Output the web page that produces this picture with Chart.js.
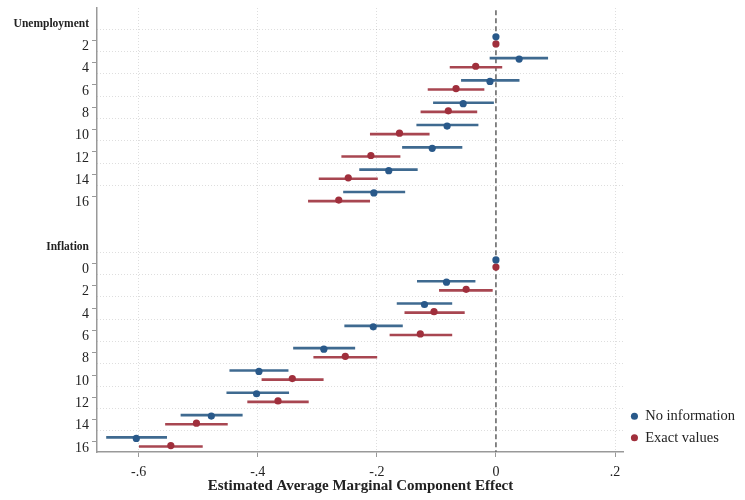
<!DOCTYPE html>
<html>
<head>
<meta charset="utf-8">
<script src="https://cdn.jsdelivr.net/npm/chart.js@4/dist/chart.umd.min.js"></script>
<style>
  html, body { margin: 0; padding: 0; background: #fff; }
</style>
</head>
<body>
<canvas id="amce" width="745" height="500"></canvas>
<script>
const FONT = "'Liberation Serif', 'Times New Roman', serif";
Chart.defaults.font.family = FONT;
Chart.defaults.color = '#222';

// attribute levels
const unemploymentLevels = ['2', '4', '6', '8', '10', '12', '14', '16'];
const inflationLevels = ['0', '2', '4', '6', '8', '10', '12', '14', '16'];

// "No information" estimates + 95% CI
const noInfoUnemployment = [0, 0.039, -0.010, -0.055, -0.082, -0.107, -0.180, -0.205];
const noInfoUnemploymentLow = [0, -0.010, -0.058, -0.105, -0.133, -0.157, -0.229, -0.256];
const noInfoUnemploymentHigh = [0, 0.087, 0.039, -0.004, -0.030, -0.057, -0.132, -0.153];
const noInfoInflation = [0, -0.083, -0.120, -0.206, -0.289, -0.398, -0.402, -0.478, -0.604];
const noInfoInflationLow = [0, -0.132, -0.166, -0.254, -0.340, -0.447, -0.452, -0.529, -0.654];
const noInfoInflationHigh = [0, -0.035, -0.074, -0.157, -0.237, -0.349, -0.348, -0.426, -0.553];

// "Exact values" estimates + 95% CI
const exactUnemployment = [0, -0.034, -0.067, -0.080, -0.162, -0.210, -0.248, -0.264];
const exactUnemploymentLow = [0, -0.077, -0.114, -0.126, -0.211, -0.259, -0.297, -0.315];
const exactUnemploymentHigh = [0, 0.010, -0.020, -0.032, -0.112, -0.161, -0.199, -0.212];
const exactInflation = [0, -0.050, -0.104, -0.127, -0.253, -0.342, -0.366, -0.503, -0.546];
const exactInflationLow = [0, -0.095, -0.153, -0.178, -0.306, -0.393, -0.417, -0.555, -0.599];
const exactInflationHigh = [0, -0.006, -0.053, -0.074, -0.200, -0.290, -0.315, -0.451, -0.493];

const xTicks = [-0.6, -0.4, -0.2, 0, 0.2];

const BLUE = '#29598a';
const BLUE_LINE = '#3f6a90';
const RED = '#a02f3c';
const RED_LINE = '#a84651';

// one row per label, a blank row between the two attributes
const rowLabels = ['Unemployment', ...unemploymentLevels, '', 'Inflation', ...inflationLevels];
const headerRows = [0, unemploymentLevels.length + 2];
const unemploymentRows = unemploymentLevels.map((_, i) => i + 1);
const inflationRows = inflationLevels.map((_, i) => headerRows[1] + 1 + i);
const Y_MIN = -0.45;
const Y_MAX = rowLabels.length - 1 + 0.45;
const SHIFT = 0.16;

const points = (values, rows, shift) =>
  values.map((v, i) => ({ x: v, y: rows[i] + shift }));
const intervals = (low, high, rows, shift) =>
  low.map((l, i) => ({ x: [l, high[i]], y: rows[i] + shift }));

const gridBetween = [];
rowLabels.forEach((label, i) => {
  if (i < rowLabels.length - 1 && label !== '' && rowLabels[i + 1] !== '') {
    gridBetween.push(i + 0.5);
  }
});

const legendShift = {
  id: 'legendShift',
  afterLayout(chart) {
    const lg = chart.legend;
    const delta = lg.bottom - 452;
    lg.top -= delta;
    lg.bottom -= delta;
  },
};

new Chart(document.getElementById('amce'), {
  type: 'scatter',
  data: {
    datasets: [
      {
        label: 'No information',
        data: [
          ...points(noInfoUnemployment, unemploymentRows, -SHIFT),
          ...points(noInfoInflation, inflationRows, -SHIFT),
        ],
        backgroundColor: BLUE,
        pointBackgroundColor: BLUE,
        pointRadius: 3.6,
        pointBorderWidth: 0,
        borderWidth: 0,
        order: 0,
      },
      {
        label: 'Exact values',
        data: [
          ...points(exactUnemployment, unemploymentRows, SHIFT),
          ...points(exactInflation, inflationRows, SHIFT),
        ],
        backgroundColor: RED,
        pointBackgroundColor: RED,
        pointRadius: 3.6,
        pointBorderWidth: 0,
        borderWidth: 0,
        order: 0,
      },
      {
        type: 'bar',
        indexAxis: 'y',
        data: [
          ...intervals(noInfoUnemploymentLow, noInfoUnemploymentHigh, unemploymentRows, -SHIFT),
          ...intervals(noInfoInflationLow, noInfoInflationHigh, inflationRows, -SHIFT),
        ],
        backgroundColor: BLUE_LINE,
        barThickness: 2,
        borderWidth: 0,
        order: 2,
      },
      {
        type: 'bar',
        indexAxis: 'y',
        data: [
          ...intervals(exactUnemploymentLow, exactUnemploymentHigh, unemploymentRows, SHIFT),
          ...intervals(exactInflationLow, exactInflationHigh, inflationRows, SHIFT),
        ],
        backgroundColor: RED_LINE,
        barThickness: 2,
        borderWidth: 0,
        order: 2,
      },
      {
        type: 'line',
        data: [{ x: 0, y: Y_MIN + 0.1 }, { x: 0, y: Y_MAX }],
        borderColor: '#6a6a6a',
        borderWidth: 1.6,
        borderDash: [5, 3],
        pointRadius: 0,
        order: 3,
      },
    ],
  },
  options: {
    responsive: false,
    animation: false,
    layout: {
      padding: { top: 8, bottom: 0, left: 0, right: 0 },
    },
    plugins: {
      tooltip: { enabled: false },
      legend: {
        position: 'right',
        align: 'end',
        maxWidth: 122,
        labels: {
          filter: (item) => !!item.text,
          usePointStyle: true,
          pointStyle: 'circle',
          boxWidth: 7,
          boxHeight: 5,
          padding: 7,
          color: '#222',
          font: { size: 14.5 },
        },
      },
    },
    scales: {
      x: {
        type: 'linear',
        min: -0.67,
        max: 0.215,
        afterBuildTicks(scale) {
          scale.ticks = xTicks.map((value) => ({ value }));
        },
        afterFit(scale) {
          scale.height = 48;
        },
        ticks: {
          padding: 7,
          font: { size: 14 },
          color: '#222',
          callback(value) {
            if (value === 0) {
              return '0';
            }
            return value.toFixed(1).replace('0.', '.');
          },
        },
        grid: {
          color: (ctx) =>
            ctx.tick && ctx.tick.value === 0 ? 'rgba(0,0,0,0)' : 'rgba(0,0,0,0.13)',
          tickColor: '#999',
          tickLength: 5,
        },
        border: { color: '#999', width: 1.5, dash: [1, 2] },
        title: {
          display: true,
          text: 'Estimated Average Marginal Component Effect',
          font: { size: 15, weight: 'bold', lineHeight: 1 },
          color: '#222',
          padding: { top: 6, bottom: 6 },
        },
      },
      y: {
        type: 'linear',
        position: 'left',
        reverse: true,
        offset: false,
        min: Y_MIN,
        max: Y_MAX,
        afterBuildTicks(scale) {
          scale.ticks = rowLabels
            .map((label, value) => ({ label, value }))
            .filter((t) => t.label !== '')
            .map((t) => ({ value: t.value }));
        },
        afterFit(scale) {
          scale.width = 97;
          scale.paddingTop = 0;
          scale.paddingBottom = 0;
        },
        ticks: {
          autoSkip: false,
          labelOffset: 6,
          padding: 3,
          color: '#222',
          callback: (value) => rowLabels[value],
          font: (ctx) =>
            ctx.tick && headerRows.includes(ctx.tick.value)
              ? { size: 11.5, weight: 'bold' }
              : { size: 14 },
        },
        grid: {
          offset: false,
          drawOnChartArea: false,
          tickLength: 5,
          tickColor: (ctx) =>
            ctx.tick && headerRows.includes(ctx.tick.value) ? 'rgba(0,0,0,0)' : '#999',
        },
        border: { color: '#999', width: 1.5 },
      },
      yGrid: {
        type: 'linear',
        position: 'right',
        reverse: true,
        offset: false,
        min: Y_MIN,
        max: Y_MAX,
        afterBuildTicks(scale) {
          scale.ticks = gridBetween.map((value) => ({ value }));
        },
        afterFit(scale) {
          scale.width = 0;
          scale.paddingTop = 0;
          scale.paddingBottom = 0;
        },
        ticks: { display: false },
        grid: {
          color: 'rgba(0,0,0,0.13)',
          drawTicks: false,
        },
        border: { display: false, dash: [1, 2] },
      },
    },
  },
  plugins: [legendShift],
});
</script>
</body>
</html>
